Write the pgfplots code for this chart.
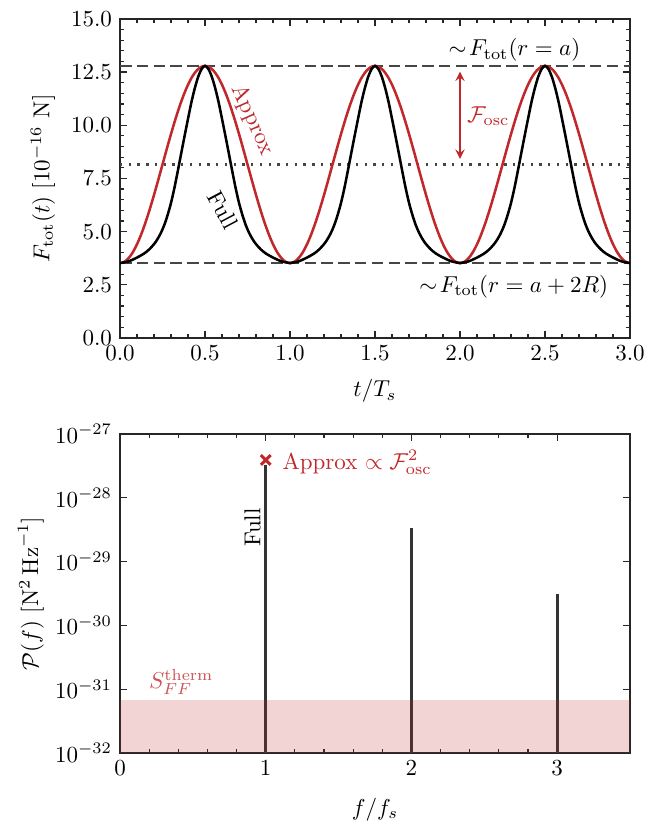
\documentclass[border=0pt]{standalone}
\usepackage{pgfplots}
\usepackage{pgfplotstable}
\pgfplotsset{compat=1.18}
\usetikzlibrary{arrows.meta}
\definecolor{aprxred}{RGB}{192,40,44}
\definecolor{thermred}{RGB}{205,85,88}
\definecolor{hline}{RGB}{70,70,70}
\tikzset{>=stealth}
\pgfplotsset{
  every axis/.append style={
    scale only axis, width=221.85pt, height=138.8pt,
    tick align=inside, tick pos=both,
    major tick length=3pt, minor tick length=1.7pt,
    every tick/.style={black!85, line width=0.5pt},
    axis line style={black!85, line width=0.7pt},
    label style={font=\normalsize},
  }
}

% one period of each curve, peak at t=0.5
\pgfplotstableread{
t F
0.00 3.52
0.05 3.60
0.10 3.78
0.14 3.96
0.17 4.15
0.20 4.41
0.22 4.64
0.24 4.93
0.26 5.30
0.28 5.78
0.30 6.35
0.32 7.05
0.34 7.85
0.36 8.68
0.38 9.50
0.40 10.30
0.42 11.08
0.44 11.74
0.46 12.28
0.48 12.64
0.50 12.79
0.52 12.64
0.54 12.28
0.56 11.74
0.58 11.08
0.60 10.30
0.62 9.50
0.64 8.68
0.66 7.85
0.68 7.05
0.70 6.35
0.72 5.78
0.74 5.30
0.76 4.93
0.78 4.64
0.80 4.41
0.83 4.15
0.86 3.96
0.90 3.78
0.95 3.60
1.00 3.52
}\fulltab

\pgfplotstableread{
t F
0.000 3.520
0.025 3.577
0.050 3.747
0.075 4.025
0.100 4.405
0.125 4.878
0.150 5.431
0.175 6.051
0.200 6.723
0.225 7.430
0.250 8.155
0.275 8.880
0.300 9.587
0.325 10.259
0.350 10.879
0.375 11.432
0.400 11.905
0.425 12.285
0.450 12.563
0.475 12.733
0.500 12.790
0.525 12.733
0.550 12.563
0.575 12.285
0.600 11.905
0.625 11.432
0.650 10.879
0.675 10.259
0.700 9.587
0.725 8.880
0.750 8.155
0.775 7.430
0.800 6.723
0.825 6.051
0.850 5.431
0.875 4.878
0.900 4.405
0.925 4.025
0.950 3.747
0.975 3.577
1.000 3.520
}\aprxtab

\begin{document}
\begin{tikzpicture}
\useasboundingbox (-52.2pt,-210.1pt) rectangle (229.7pt,147.0pt);

\begin{axis}[
  xmin=0, xmax=3, ymin=0, ymax=15,
  xtick={0,0.5,...,3}, ytick={0,2.5,...,15},
  minor x tick num=4, minor y tick num=4,
  xticklabel style={/pgf/number format/.cd,fixed,fixed zerofill,precision=1},
  yticklabel style={/pgf/number format/.cd,fixed,fixed zerofill,precision=1},
  xlabel={$t/T_s$},
  ylabel={$F_{\mathrm{tot}}(t)$ $[10^{-16}$ N$]$},
  xlabel style={at={(axis description cs:0.5,-0.105)}, anchor=north},
  ylabel style={at={(axis description cs:-0.151,0.5)}, anchor=center},
]
\addplot[hline, line width=1pt, dash pattern=on 5pt off 2.3pt] coordinates {(0,12.79) (3,12.79)};
\addplot[hline, line width=1pt, dash pattern=on 5pt off 2.3pt] coordinates {(0,3.52) (3,3.52)};
\addplot[hline, line width=0.9pt, dash pattern=on 1pt off 2.8pt] coordinates {(0,8.155) (3,8.155)};

\addplot[aprxred, line width=1.1pt, smooth] table[x=t, y=F] {\aprxtab};
\addplot[aprxred, line width=1.1pt, smooth] table[x expr=\thisrow{t}+1, y=F] {\aprxtab};
\addplot[aprxred, line width=1.1pt, smooth] table[x expr=\thisrow{t}+2, y=F] {\aprxtab};

\addplot[black, line width=1.1pt, smooth] table[x=t, y=F] {\fulltab};
\addplot[black, line width=1.1pt, smooth] table[x expr=\thisrow{t}+1, y=F] {\fulltab};
\addplot[black, line width=1.1pt, smooth] table[x expr=\thisrow{t}+2, y=F] {\fulltab};

\draw[<->, aprxred, line width=0.8pt] (axis cs:2,12.52) -- (axis cs:2,8.42);
\node[aprxred] at (axis cs:2.166,10.44) {$\mathcal{F}_{\mathrm{osc}}$};
\node at (axis cs:2.32,13.54) {$\sim\!F_{\mathrm{tot}}(r=a)$};
\node at (axis cs:2.316,2.41) {$\sim\!F_{\mathrm{tot}}(r=a+2R)$};
\node[aprxred, rotate=-66] at (axis cs:0.78,10.25) {Approx};
\node[black, rotate=-62] at (axis cs:0.605,6.02) {Full};
\end{axis}

\begin{axis}[
  at={(0pt,-180.5pt)},
  xmin=0, xmax=3.5, ymode=log, ymin=1e-32, ymax=1e-27,
  xtick={0,1,2,3}, minor x tick num=4,
  ytick={1e-32,1e-31,1e-30,1e-29,1e-28,1e-27},
  yminorticks=false,
  xlabel={$f/f_s$},
  ylabel={$\mathcal{P}(f)$ $[\mathrm{N}^2\,\mathrm{Hz}^{-1}]$},
  xlabel style={at={(axis description cs:0.5,-0.115)}, anchor=north},
  ylabel style={at={(axis description cs:-0.175,0.5)}, anchor=center},
]
\addplot[black!80, line width=1.3pt] coordinates {(1,1e-32) (1,3.3e-28)};
\addplot[black!80, line width=1.3pt] coordinates {(2,1e-32) (2,3.4e-29)};
\addplot[black!80, line width=1.3pt] coordinates {(3,1e-32) (3,3.1e-30)};
\addplot[draw=none, fill=aprxred, fill opacity=0.2] coordinates {(0,1e-32) (3.5,1e-32) (3.5,6.7e-32) (0,6.7e-32)} -- cycle;
\addplot[aprxred, only marks, mark=x, mark size=3pt, line width=1.3pt] coordinates {(1,3.9e-28)};

\node[aprxred, anchor=base west] at (axis cs:1.06,2.8e-28) {Approx $\propto \mathcal{F}^2_{\mathrm{osc}}$};
\node[rotate=90] at (axis cs:0.91,3.4e-29) {Full};
\node[thermred] at (axis cs:0.42,1.3e-31) {$S_{FF}^{\mathrm{therm}}$};
\end{axis}
\end{tikzpicture}
\end{document}
